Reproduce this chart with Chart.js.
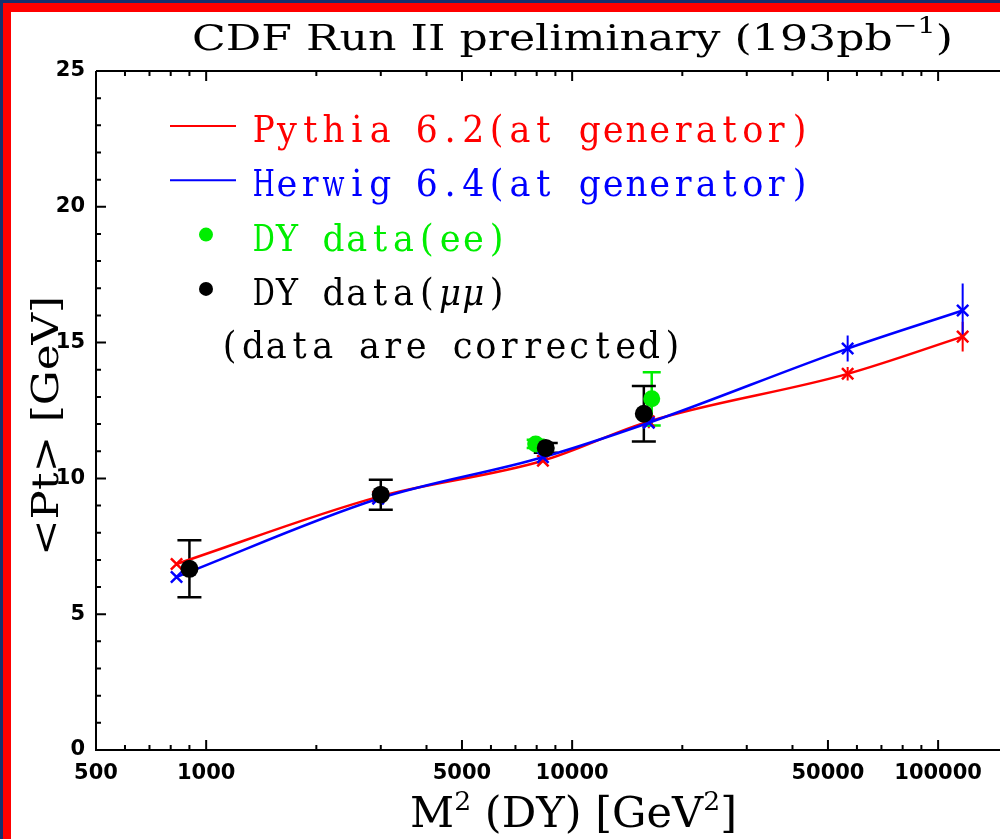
<!DOCTYPE html>
<html lang="en">
<head>
<meta charset="UTF-8">
<title>CDF Run II preliminary - DY mean Pt</title>
<style>
  html, body { margin: 0; padding: 0; background: #fff; }
  #wrap { position: relative; width: 1000px; height: 839px; overflow: hidden; }
  #chart { position: absolute; left: 0; top: 0; }
  .edge { position: absolute; }
</style>
</head>
<body>
<div id="wrap">
  <canvas id="chart" width="1000" height="839"></canvas>
  <div class="edge" style="left:0;top:0;width:1000px;height:3px;background:#15306e"></div>
  <div class="edge" style="left:0;top:0;width:3px;height:839px;background:#15306e"></div>
  <div class="edge" style="left:3px;top:3px;width:997px;height:9px;background:#ff0000"></div>
  <div class="edge" style="left:3px;top:3px;width:8px;height:836px;background:#ff0000"></div>
</div>
<script src="https://cdn.jsdelivr.net/npm/chart.js@4.4.0/dist/chart.umd.min.js"></script>
<script>
// tick labels
const massLabels = [500, 1000, 5000, 10000, 50000, 100000];
const massMajor = [1000, 5000, 10000, 50000, 100000];
const massMinor = [600, 700, 800, 900, 2000, 3000, 4000, 6000, 7000, 8000, 9000,
                   20000, 30000, 40000, 60000, 70000, 80000, 90000];
const ptLabels = [0, 5, 10, 15, 20, 25];

// generator predictions (M^2 in GeV^2, <Pt> in GeV)
const mcMass = [830, 2950, 8320, 16200, 56600, 116700];
const pythiaPt = [6.85, 9.32, 10.65, 12.1, 13.85, 15.22];
const pythiaErr = [0, 0, 0, 0.25, 0.25, 0.55];
const herwigPt = [6.37, 9.25, 10.78, 12.05, 14.78, 16.18];
const herwigErr = [0, 0, 0, 0.15, 0.48, 1.0];

// data
const eeMass = [7950, 16500];
const eePt = [11.27, 12.93];
const eeErr = [0.15, 0.98];
const mumuMass = [900, 3000, 8470, 15700];
const mumuPt = [6.67, 9.40, 11.12, 12.38];
const mumuErr = [1.05, 0.55, 0.18, 1.02];

const titleText = 'CDF Run II preliminary (193pb';
const noteText = '(data are corrected)';

const RED = '#ff0000', BLUE = '#0000ff', GREEN = '#00ee00', BLACK = '#000000';

const pts = (xs, ys) => xs.map((x, i) => ({ x, y: ys[i] }));

// draws pieces of text in a row, squeezed horizontally to a given width
function drawRun(ctx, parts, x, y, opt) {
  let total = 0;
  parts.forEach(p => { ctx.font = p.font; p.w = ctx.measureText(p.t).width; total += p.w; });
  const s = opt.width / total;
  ctx.save();
  ctx.translate(x, y);
  if (opt.rotate) ctx.rotate(opt.rotate);
  ctx.scale(s, 1);
  ctx.textAlign = 'left';
  ctx.textBaseline = 'alphabetic';
  let cx = 0;
  parts.forEach(p => {
    ctx.font = p.font;
    ctx.fillStyle = p.color || BLACK;
    ctx.fillText(p.t, cx, p.dy || 0);
    cx += p.w;
  });
  ctx.restore();
}

// typewriter style: every character centred in a fixed cell
function drawMono(ctx, text, x, y, color) {
  const cell = 23.3;
  [...text].forEach((ch, k) => {
    ctx.save();
    ctx.font = (ch === '\u03bc' ? 'italic ' : '') + '37px "DejaVu Serif"';
    const w = ctx.measureText(ch).width || 1;
    const squeeze = Math.min(0.95, 22 / w);
    ctx.translate(x + k * cell + cell / 2, y);
    ctx.scale(squeeze, 1);
    ctx.fillStyle = color;
    ctx.textAlign = 'center';
    ctx.textBaseline = 'alphabetic';
    ctx.fillText(ch, 0, 0);
    ctx.restore();
  });
}

const errorBars = {
  id: 'errorBars',
  beforeDatasetsDraw(chart) {
    const { ctx, scales: { x, y } } = chart;
    chart.data.datasets.forEach(ds => {
      if (!ds.errs) return;
      ctx.save();
      ctx.strokeStyle = ds.borderColor;
      ctx.lineWidth = ds.errWidth || 2;
      ctx.beginPath();
      ds.data.forEach((p, i) => {
        const e = ds.errs[i];
        if (!e) return;
        const px = x.getPixelForValue(p.x);
        const top = y.getPixelForValue(p.y + e);
        const bot = y.getPixelForValue(p.y - e);
        ctx.moveTo(px, top); ctx.lineTo(px, bot);
        if (ds.cap) {
          ctx.moveTo(px - ds.cap, top); ctx.lineTo(px + ds.cap, top);
          ctx.moveTo(px - ds.cap, bot); ctx.lineTo(px + ds.cap, bot);
        }
      });
      ctx.stroke();
      ctx.restore();
    });
  }
};

const frame = {
  id: 'frame',
  afterDraw(chart) {
    const { ctx, chartArea: a, scales: { x, y } } = chart;
    ctx.save();
    ctx.strokeStyle = BLACK;
    ctx.lineWidth = 2;
    ctx.beginPath();
    ctx.moveTo(a.left, a.top); ctx.lineTo(a.left, a.bottom); ctx.lineTo(a.right, a.bottom);
    ctx.moveTo(a.left, a.top); ctx.lineTo(a.right, a.top);
    const xt = (v, len) => {
      const px = x.getPixelForValue(v);
      ctx.moveTo(px, a.bottom); ctx.lineTo(px, a.bottom - len);
      ctx.moveTo(px, a.top); ctx.lineTo(px, a.top + len);
    };
    massMajor.forEach(v => xt(v, 10));
    massMinor.forEach(v => xt(v, 5));
    for (let v = 1; v < 25; v++) {
      const py = y.getPixelForValue(v);
      ctx.moveTo(a.left, py); ctx.lineTo(a.left + (v % 5 === 0 ? 10 : 5), py);
    }
    ctx.stroke();
    ctx.restore();
  }
};

const texts = {
  id: 'texts',
  afterDraw(chart) {
    const ctx = chart.ctx;
    const serif = s => s + 'px "DejaVu Serif"';
    // title
    drawRun(ctx, [
      { t: titleText, font: serif(35) },
      { t: '\u22121', font: serif(23), dy: -17 },
      { t: ')', font: serif(35) }
    ], 192, 50, { width: 761 });
    // x axis title
    drawRun(ctx, [
      { t: 'M', font: serif(42) },
      { t: '2', font: serif(26), dy: -17 },
      { t: ' (DY) [GeV', font: serif(42) },
      { t: '2', font: serif(26), dy: -17 },
      { t: ']', font: serif(42) }
    ], 410, 827, { width: 327 });
    // y axis title
    drawRun(ctx, [{ t: '<Pt> [GeV]', font: serif(38) }], 58, 556, { width: 260, rotate: -Math.PI / 2 });

    // legend
    chart.data.datasets.forEach((ds, i) => {
      const my = 126 + 54.3 * i;
      ctx.save();
      if (ds.showLine === false) {
        ctx.fillStyle = ds.borderColor;
        ctx.beginPath(); ctx.arc(206, my, 7, 0, Math.PI * 2); ctx.fill();
      } else {
        ctx.strokeStyle = ds.borderColor; ctx.lineWidth = 2;
        ctx.beginPath(); ctx.moveTo(170, my); ctx.lineTo(236, my); ctx.stroke();
      }
      ctx.restore();
      drawMono(ctx, ds.label, 252, my + 16, ds.borderColor);
    });
    drawMono(ctx, noteText, 218, 358, BLACK);
  }
};

const tickFont = { family: 'DejaVu Sans', weight: 'bold', size: 21 };

new Chart(document.getElementById('chart').getContext('2d'), {
  type: 'line',
  data: {
    datasets: [
      {
        label: 'Pythia 6.2(at generator)',
        data: pts(mcMass, pythiaPt),
        errs: pythiaErr, cap: 0,
        borderColor: RED, backgroundColor: RED, borderWidth: 2.5,
        pointStyle: 'crossRot', pointRadius: 8, pointBorderWidth: 2.5,
        cubicInterpolationMode: 'monotone', fill: false, order: 4
      },
      {
        label: 'Herwig 6.4(at generator)',
        data: pts(mcMass, herwigPt),
        errs: herwigErr, cap: 0,
        borderColor: BLUE, backgroundColor: BLUE, borderWidth: 2.5,
        pointStyle: 'crossRot', pointRadius: 8, pointBorderWidth: 2.5,
        cubicInterpolationMode: 'monotone', fill: false, order: 3
      },
      {
        label: 'DY data(ee)',
        data: pts(eeMass, eePt),
        errs: eeErr, cap: 9, errWidth: 2.5,
        showLine: false,
        borderColor: GREEN, backgroundColor: GREEN,
        pointRadius: 8.5, pointBorderWidth: 0, order: 2
      },
      {
        label: 'DY data(\u03bc\u03bc)',
        data: pts(mumuMass, mumuPt),
        errs: mumuErr, cap: 12, errWidth: 2.5,
        showLine: false,
        borderColor: BLACK, backgroundColor: BLACK,
        pointRadius: 9, pointBorderWidth: 0, order: 1
      }
    ]
  },
  options: {
    responsive: false,
    animation: false,
    events: [],
    layout: { autoPadding: false, padding: { top: 71, left: 0, right: 0, bottom: 0 } },
    plugins: { legend: { display: false }, tooltip: { enabled: false } },
    scales: {
      x: {
        type: 'logarithmic', position: 'bottom', min: 500, max: 147600,
        grid: { display: false, drawTicks: false }, border: { display: false },
        afterBuildTicks: s => { s.ticks = massLabels.map(v => ({ value: v })); },
        afterFit: s => { s.height = 89; s.paddingLeft = 0; s.paddingRight = 0; },
        ticks: { autoSkip: false, maxRotation: 0, padding: 11, color: BLACK, font: tickFont,
                 callback: v => String(v) }
      },
      y: {
        type: 'linear', position: 'left', min: 0, max: 25,
        grid: { display: false, drawTicks: false }, border: { display: false },
        afterBuildTicks: s => { s.ticks = ptLabels.map(v => ({ value: v })); },
        afterFit: s => { s.width = 96; s.paddingTop = 0; s.paddingBottom = 0; },
        ticks: { autoSkip: false, padding: 11, color: BLACK, font: tickFont }
      }
    }
  },
  plugins: [errorBars, frame, texts]
});
</script>
</body>
</html>
